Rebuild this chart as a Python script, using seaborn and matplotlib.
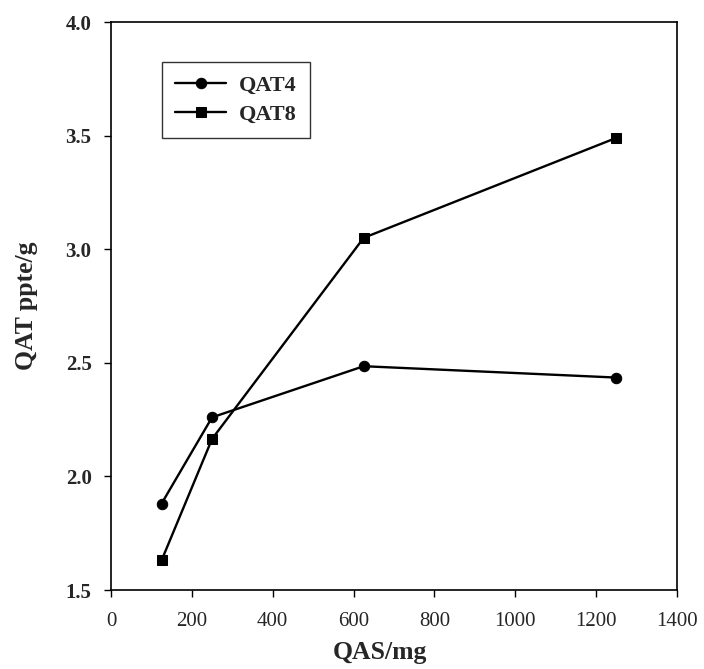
import numpy as np
import pandas as pd
import seaborn as sns
import matplotlib
matplotlib.use("Agg")
import matplotlib.pyplot as plt

qas_mg = [125, 250, 625, 1250]
qat4 = [1.88, 2.26, 2.485, 2.435]
qat8 = [1.63, 2.165, 3.05, 3.49]
x_ticks = [0, 200, 400, 600, 800, 1000, 1200, 1400]
y_ticks = [1.5, 2.0, 2.5, 3.0, 3.5, 4.0]

df = pd.DataFrame({
    "QAS": qas_mg * 2,
    "QAT": qat4 + qat8,
    "Series": ["QAT4"] * 4 + ["QAT8"] * 4,
})

sns.set_theme(style="ticks")
plt.rcParams["font.family"] = ["Liberation Serif", "DejaVu Serif"]

fig = plt.figure(figsize=(7.04, 6.69), dpi=100)
# axes box in pixels: left 111, right 677, top 22, bottom 590
ax = fig.add_axes([111 / 704, 79 / 669, 566 / 704, 568 / 669])

sns.lineplot(data=df, x="QAS", y="QAT", style="Series", markers={"QAT4": "o", "QAT8": "s"},
             dashes=False, color="black", linewidth=1.7, markersize=7.5, ax=ax,
             markeredgecolor="black")

ax.set_xlim(0, 1400)
ax.set_ylim(1.5, 4.0)
ax.set_xticks(x_ticks)
ax.set_yticks(y_ticks)
ax.set_xticklabels([str(t) for t in x_ticks], fontsize=15)
ax.set_yticklabels([f"{t:.1f}" for t in y_ticks], fontsize=15, fontweight="bold")
ax.tick_params(direction="out", length=5, width=1, top=False, right=False, color="black")
ax.tick_params(axis="x", pad=11)
ax.tick_params(axis="y", pad=9)
for s in ax.spines.values():
    s.set_linewidth(1.2)
    s.set_color("black")

ax.set_xlabel("QAS/mg", fontsize=18.5, fontweight="bold")
ax.xaxis.set_label_coords(0.475, -0.09, transform=ax.transAxes)
ax.xaxis.label.set_verticalalignment("top")
ax.set_ylabel("QAT ppte/g", fontsize=18.5, fontweight="bold", labelpad=20)

leg = ax.legend(loc="upper left", bbox_to_anchor=(0.09, 0.93), frameon=True, fancybox=False,
                edgecolor="black", prop={"size": 16, "weight": "bold"}, handlelength=2.3,
                borderpad=0.6, labelspacing=0.4, handletextpad=0.55, borderaxespad=0)
leg.get_frame().set_linewidth(1.0)

fig.savefig("out.png", dpi=100)
